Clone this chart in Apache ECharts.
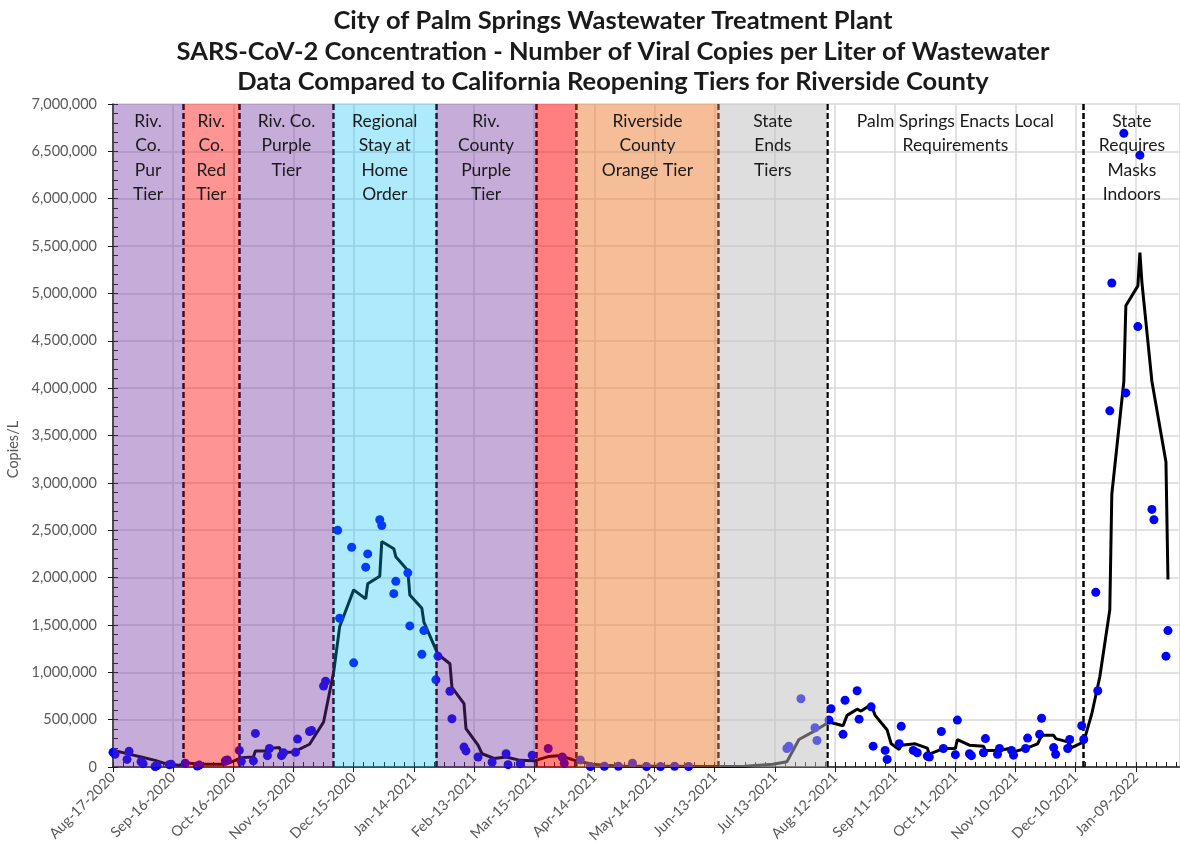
<!DOCTYPE html>
<html>
<head>
<meta charset="utf-8">
<script src="https://cdn.jsdelivr.net/npm/echarts@6/dist/echarts.min.js"></script>
<style>
html,body{margin:0;padding:0;background:#fff;}
#chart{width:1180px;height:849px;}
</style>
</head>
<body>
<div id="chart"></div>
<script>
// ---- DATA (x = days since Aug-17-2020) ----
const titleLines = [
  "City of Palm Springs Wastewater Treatment Plant",
  "SARS-CoV-2 Concentration - Number of Viral Copies per Liter of Wastewater",
  "Data Compared to California Reopening Tiers for Riverside County"
];
const yAxisName = "Copies/L";

const sampleDays = [0,1,7,8,14,15,21,22,28,29,36,42,43,56,57,63,64,70,71,77,78,84,85,91,92,98,99,105,106,
  112,113,119,120,126,127,133,134,140,141,147,148,154,155,161,162,168,169,175,176,182,189,196,197,203,209,217,
  224,225,233,238,245,252,259,266,273,280,287,
  336,337,343,350,351,357,358,364,365,371,372,378,379,385,386,392,393,399,401,406,407,413,414,420,421,427,428,
  434,435,441,442,448,449,455,456,462,463,469,470,476,477,483,484,
  490,491,497,498,504,505,511,512,518,519,525,526];
const sampleValues = [155000,135000,80000,165000,55000,35000,5000,15000,25000,30000,40000,10000,20000,65000,75000,175000,60000,65000,355000,120000,195000,120000,150000,155000,295000,375000,385000,855000,905000,
  2500000,1570000,2320000,1100000,2110000,2250000,2610000,2550000,1830000,1960000,2050000,1490000,1190000,1440000,920000,1170000,800000,510000,210000,170000,105000,50000,140000,25000,35000,125000,195000,
  105000,40000,75000,5000,8000,8000,40000,5000,5000,8000,5000,
  195000,220000,720000,415000,280000,495000,615000,345000,705000,805000,505000,635000,220000,175000,80000,245000,430000,175000,150000,115000,105000,375000,195000,130000,495000,140000,120000,
  150000,300000,135000,195000,175000,125000,195000,305000,345000,515000,205000,135000,195000,290000,435000,290000,
  1845000,805000,3760000,5110000,6690000,3950000,4650000,6460000,2720000,2610000,1170000,1440000];

const avgDays = [0,7,14,21,27,33,37,43,56,61,64,70,71,76,77,83,84,90,98,105,110,113,120,126,127,133,134,140,141,147,148,154,155,161,162,168,169,175,176,182,184,190,196,203,210,217,222,225,231,239,246,253,266,280,294,302,315,329,336,342,351,357,364,366,371,373,378,380,386,388,392,393,400,406,407,414,420,421,427,434,435,442,448,449,455,461,463,469,470,476,478,484,488,492,497,498,504,505,511,512,513,518,525,526];
const avgValues = [176000,141000,106000,70000,30000,18000,42000,28000,28000,70000,99000,106000,169000,169000,194000,205000,152000,158000,240000,475000,1000000,1480000,1870000,1775000,1935000,2015000,2380000,2305000,2220000,2075000,1815000,1675000,1530000,1240000,1190000,1090000,840000,670000,405000,230000,140000,90000,105000,70000,65000,110000,120000,105000,65000,30000,18000,10000,8000,8000,6000,5000,8000,28000,55000,290000,395000,475000,435000,545000,610000,590000,660000,545000,390000,245000,185000,230000,245000,200000,135000,195000,195000,290000,230000,220000,175000,175000,200000,160000,195000,245000,335000,335000,300000,265000,205000,265000,560000,950000,1660000,2880000,4070000,4870000,5080000,5430000,5120000,4070000,3220000,1980000];

const bandStart = [0,35,63,110,161,211,231,302,356,484];
const bandEnd   = [35,63,110,161,211,231,302,356,484,532];
const bandLabels = [
  "Riv.\nCo.\nPur\nTier",
  "Riv.\nCo.\nRed\nTier",
  "Riv. Co.\nPurple\nTier",
  "Regional\nStay at\nHome\nOrder",
  "Riv.\nCounty\nPurple\nTier",
  "",
  "Riverside\nCounty\nOrange Tier",
  "State\nEnds\nTiers",
  "Palm Springs Enacts Local\nRequirements",
  "State\nRequires\nMasks\nIndoors"
];
const boundaryDays = [35,63,110,161,211,231,302,356,484];

const xMin = 0, xMax = 532, xInterval = 30;
const yMin = 0, yMax = 7000000, yInterval = 500000;

// ---- STYLE ----
const bandColors = [
  'rgba(112,48,160,0.4)','rgba(255,0,0,0.42)','rgba(112,48,160,0.4)','rgba(0,190,242,0.32)',
  'rgba(112,48,160,0.4)','rgba(255,0,0,0.5)','rgba(237,125,49,0.5)','rgba(190,190,190,0.5)',
  'rgba(255,255,255,0)','rgba(255,255,255,0)'
];
const FONT = 'Lato, "Open Sans", sans-serif';
const MONTHS = ['Jan','Feb','Mar','Apr','May','Jun','Jul','Aug','Sep','Oct','Nov','Dec'];
const ORIGIN = Date.UTC(2020,7,17);
function dayLabel(d){
  const dt = new Date(ORIGIN + Math.round(d)*86400000);
  return MONTHS[dt.getUTCMonth()] + '-' + String(dt.getUTCDate()).padStart(2,'0') + '-' + dt.getUTCFullYear();
}

const chart = echarts.init(document.getElementById('chart'), null, {renderer:'canvas'});
const option = {
  backgroundColor:'#ffffff',
  animation:false,
  title:{
    text: titleLines.join('\n'),
    left: 608, top: 1, textAlign:'center',
    textStyle:{fontFamily:FONT, fontSize:25.5, fontWeight:'bold', color:'#1a1a1a', lineHeight:30.5}
  },
  grid:{left:113, right:0, top:104, bottom:82, containLabel:false, outerBoundsMode:'none'},
  xAxis:[{
    type:'value', min:xMin, max:xMax, interval:xInterval,
    axisLine:{show:true, onZero:false, lineStyle:{color:'#1a1a1a', width:1.5}},
    axisTick:{show:true, inside:false, length:5, lineStyle:{color:'#1a1a1a'}},
    axisLabel:{rotate:45, fontFamily:FONT, fontSize:14.5, color:'#595959', margin:8, showMaxLabel:false,
      formatter:v=>dayLabel(v)},
    splitLine:{show:true, lineStyle:{color:'#d9d9d9', width:1.5}}
  },{
    type:'value', min:xMin, max:xMax, interval:5, position:'bottom',
    axisLine:{show:false}, axisLabel:{show:false}, splitLine:{show:false},
    axisTick:{show:true, inside:true, length:5, lineStyle:{color:'#1a1a1a'}}
  }],
  yAxis:[{
    type:'value', min:yMin, max:yMax, interval:yInterval,
    name:yAxisName, nameLocation:'middle', nameGap:88, nameRotate:90,
    nameTextStyle:{fontFamily:FONT, fontSize:14.5, color:'#595959', padding:[0,28,0,0]},
    axisLine:{show:true, lineStyle:{color:'#1a1a1a', width:1.5}},
    axisTick:{show:true, inside:false, length:5, lineStyle:{color:'#1a1a1a'}},
    axisLabel:{fontFamily:FONT, fontSize:14.5, color:'#595959', margin:16,
      formatter:v=>v.toLocaleString('en-US')},
    splitLine:{show:true, lineStyle:{color:'#d9d9d9', width:1.5}}
  },{
    type:'value', min:yMin, max:yMax, interval:100000, position:'left',
    axisLine:{show:false}, axisLabel:{show:false}, splitLine:{show:false},
    axisTick:{show:true, inside:true, length:5, lineStyle:{color:'#1a1a1a'}}
  }],
  series:[
    {
      name:'Average', type:'line', xAxisIndex:0, yAxisIndex:0, z:3,
      data: avgDays.map((d,i)=>[d, avgValues[i]]),
      showSymbol:false, symbol:'none',
      lineStyle:{color:'#000', width:3}, itemStyle:{color:'#000'},
      markLine:{
        z:3, silent:true, symbol:'none', label:{show:false},
        lineStyle:{color:'#000', type:[6,3], width:2.5},
        data: boundaryDays.map(d=>({xAxis:d}))
      }
    },
    {
      name:'Samples', type:'scatter', xAxisIndex:0, yAxisIndex:0, z:4,
      data: sampleDays.map((d,i)=>[d, sampleValues[i]]),
      symbolSize:9, itemStyle:{color:'#0000ff', opacity:1}
    },
    {
      name:'Tiers', type:'line', xAxisIndex:0, yAxisIndex:0, z:10, silent:true,
      data:[],
      markArea:{
        z:10, silent:true,
        data: bandStart.map((s,i)=>[
          {xAxis:s, yAxis:yMin, name:bandLabels[i], itemStyle:{color:bandColors[i]}},
          {xAxis:bandEnd[i], yAxis:yMax}
        ]),
        label:{show:true, position:'insideTop', distance:5, color:'#1a1a1a',
          fontFamily:FONT, fontSize:17.5, lineHeight:24.5, align:'center'}
      }
    }
  ]
};
chart.setOption(option);
</script>
</body>
</html>
